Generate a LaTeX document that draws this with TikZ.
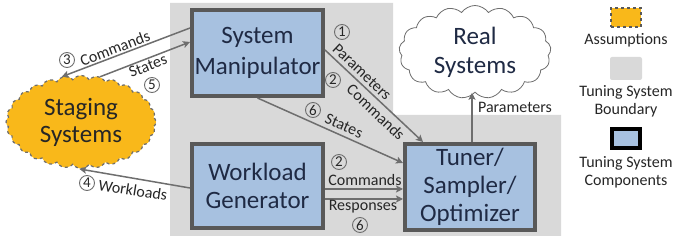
\documentclass[tikz,border=0pt]{standalone}
\usepackage{fontspec}
\setmainfont{Carlito}
\usetikzlibrary{shapes.symbols,arrows.meta,calc}

\definecolor{boundgray}{HTML}{D9D9D9}
\definecolor{compblue}{HTML}{A7C1E0}
\definecolor{compedge}{HTML}{595959}
\definecolor{assumeorange}{HTML}{F9B81A}
\definecolor{linkgray}{HTML}{6E6E6E}
\definecolor{boxtext}{HTML}{1F2A44}
\definecolor{labeltext}{HTML}{262626}

\tikzset{
  comp/.style={draw=compedge, line width=4pt, fill=compblue, text=boxtext,
    align=center, inner sep=0pt},
  link/.style={draw=linkgray, line width=1.5pt,
    -{Stealth[length=7pt,width=7pt,inset=1.5pt]}},
  lbl/.style={font=\fontsize{16}{18}\selectfont, text=labeltext, inner sep=0pt},
  num/.style={circle, draw=linkgray, line width=0.9pt, minimum size=15pt,
    inner sep=0pt, text=labeltext, font=\fontsize{15}{15}\selectfont},
  legtext/.style={font=\fontsize{16}{18}\selectfont, text=labeltext,
    align=center, inner sep=0pt},
}

\begin{document}
\begin{tikzpicture}[x=1pt,y=-1pt]
\useasboundingbox (0,0) rectangle (678,245);

% boundary of the tuning system
\fill[boundgray] (170,3) -- (393,3) -- (393,115) -- (561,115) -- (561,236)
  -- (170,236) -- cycle;

% components
\node[comp, minimum width=131pt, minimum height=86pt,
  font=\fontsize{25}{31}\selectfont] (sm) at (257.5,53) {System\\Manipulator};
\node[comp, minimum width=131pt, minimum height=84pt,
  font=\fontsize{25}{28}\selectfont] (wg) at (257.5,186) {Workload\\Generator};
\node[comp, minimum width=130pt, minimum height=86pt,
  font=\fontsize{25}{28}\selectfont] (tn) at (470,187) {Tuner/\\Sampler/\\Optimizer};

% systems
\node[cloud, cloud puffs=28, cloud puff arc=110, cloud ignores aspect,
  draw=linkgray, line width=1.2pt, dashed, fill=assumeorange,
  minimum width=150pt, minimum height=93pt, inner sep=0pt, align=center,
  text=labeltext, font=\fontsize{25}{27}\selectfont]
  (stg) at (81,122) {Staging\\Systems};
\node[cloud, cloud puffs=17, cloud puff arc=110, cloud ignores aspect,
  draw=linkgray, line width=0.8pt, fill=white,
  minimum width=152pt, minimum height=93pt, inner sep=0pt, align=center,
  text=boxtext, font=\fontsize{25}{29}\selectfont]
  (rs) at (475,52) {Real\\Systems};

% staging links
\draw[link] ([yshift=25pt]sm.west) -- (stg.113);
\node[lbl, rotate=20.6] (l3) at (115,48) {Commands};
\node[num] (n3) at (67,60) {3};
\draw[link] (stg.67) -- ([yshift=11pt]sm.west);
\node[lbl, rotate=21] (l5) at (148,66) {States};
\node[num] (n5) at (152,85) {5};
\draw[link] ([yshift=-2pt]wg.west) -- (stg.268);
\node[lbl, rotate=-9] (l4) at (133,190) {Workloads};
\node[num] (n4) at (87,183) {4};

% manipulator to tuner
\draw[link] ([yshift=3pt]sm.east) -- ([xshift=-47pt]tn.north);
\node[lbl, rotate=-43.5] (l1) at (362,72) {Parameters};
\node[num] (n1) at (342,32) {1};
\node[lbl, rotate=-43.5] (l2a) at (376,112) {Commands};
\node[num] (n2a) at (333,80) {2};
\draw[link] (sm.south) -- ([yshift=24pt]tn.west);
\node[lbl, rotate=-23.6] (l6a) at (344,126) {States};
\node[num] (n6a) at (313,110) {6};

% generator to tuner
\draw[link] ([yshift=-3pt]wg.east) -- ([yshift=-3pt]wg.east -| tn.west);
\node[lbl] (l2b) at (365,180) {Commands};
\node[num] (n2b) at (339,162) {2};
\draw[link] ([yshift=-13pt]wg.east) -- ([yshift=-13pt]wg.east -| tn.west);
\node[lbl] (l6b) at (363,207) {Responses};
\node[num] (n6b) at (360,225) {6};

% tuner to real systems
\draw[link] ([xshift=2pt]tn.north) -- ([xshift=2pt]tn.north |- rs.south);
\node[lbl] (lp) at (515,107) {Parameters};

% legend
\node[draw=compedge, line width=1.5pt, dashed, fill=assumeorange,
  minimum width=30pt, minimum height=19pt, inner sep=0pt] (kA) at (626,17.5) {};
\node[legtext] (tA) at (626,40) {Assumptions};
\node[fill=boundgray, rounded corners=2pt, minimum width=32pt,
  minimum height=23pt, inner sep=0pt] (kB) at (626,68.5) {};
\node[legtext] (tB) at (626,101) {Tuning System\\Boundary};
\node[draw=black, line width=4pt, fill=compblue, minimum width=28pt,
  minimum height=19pt, inner sep=0pt] (kC) at (626,138.5) {};
\node[legtext] (tC) at (626,172) {Tuning System\\Components};
\end{tikzpicture}
\end{document}
